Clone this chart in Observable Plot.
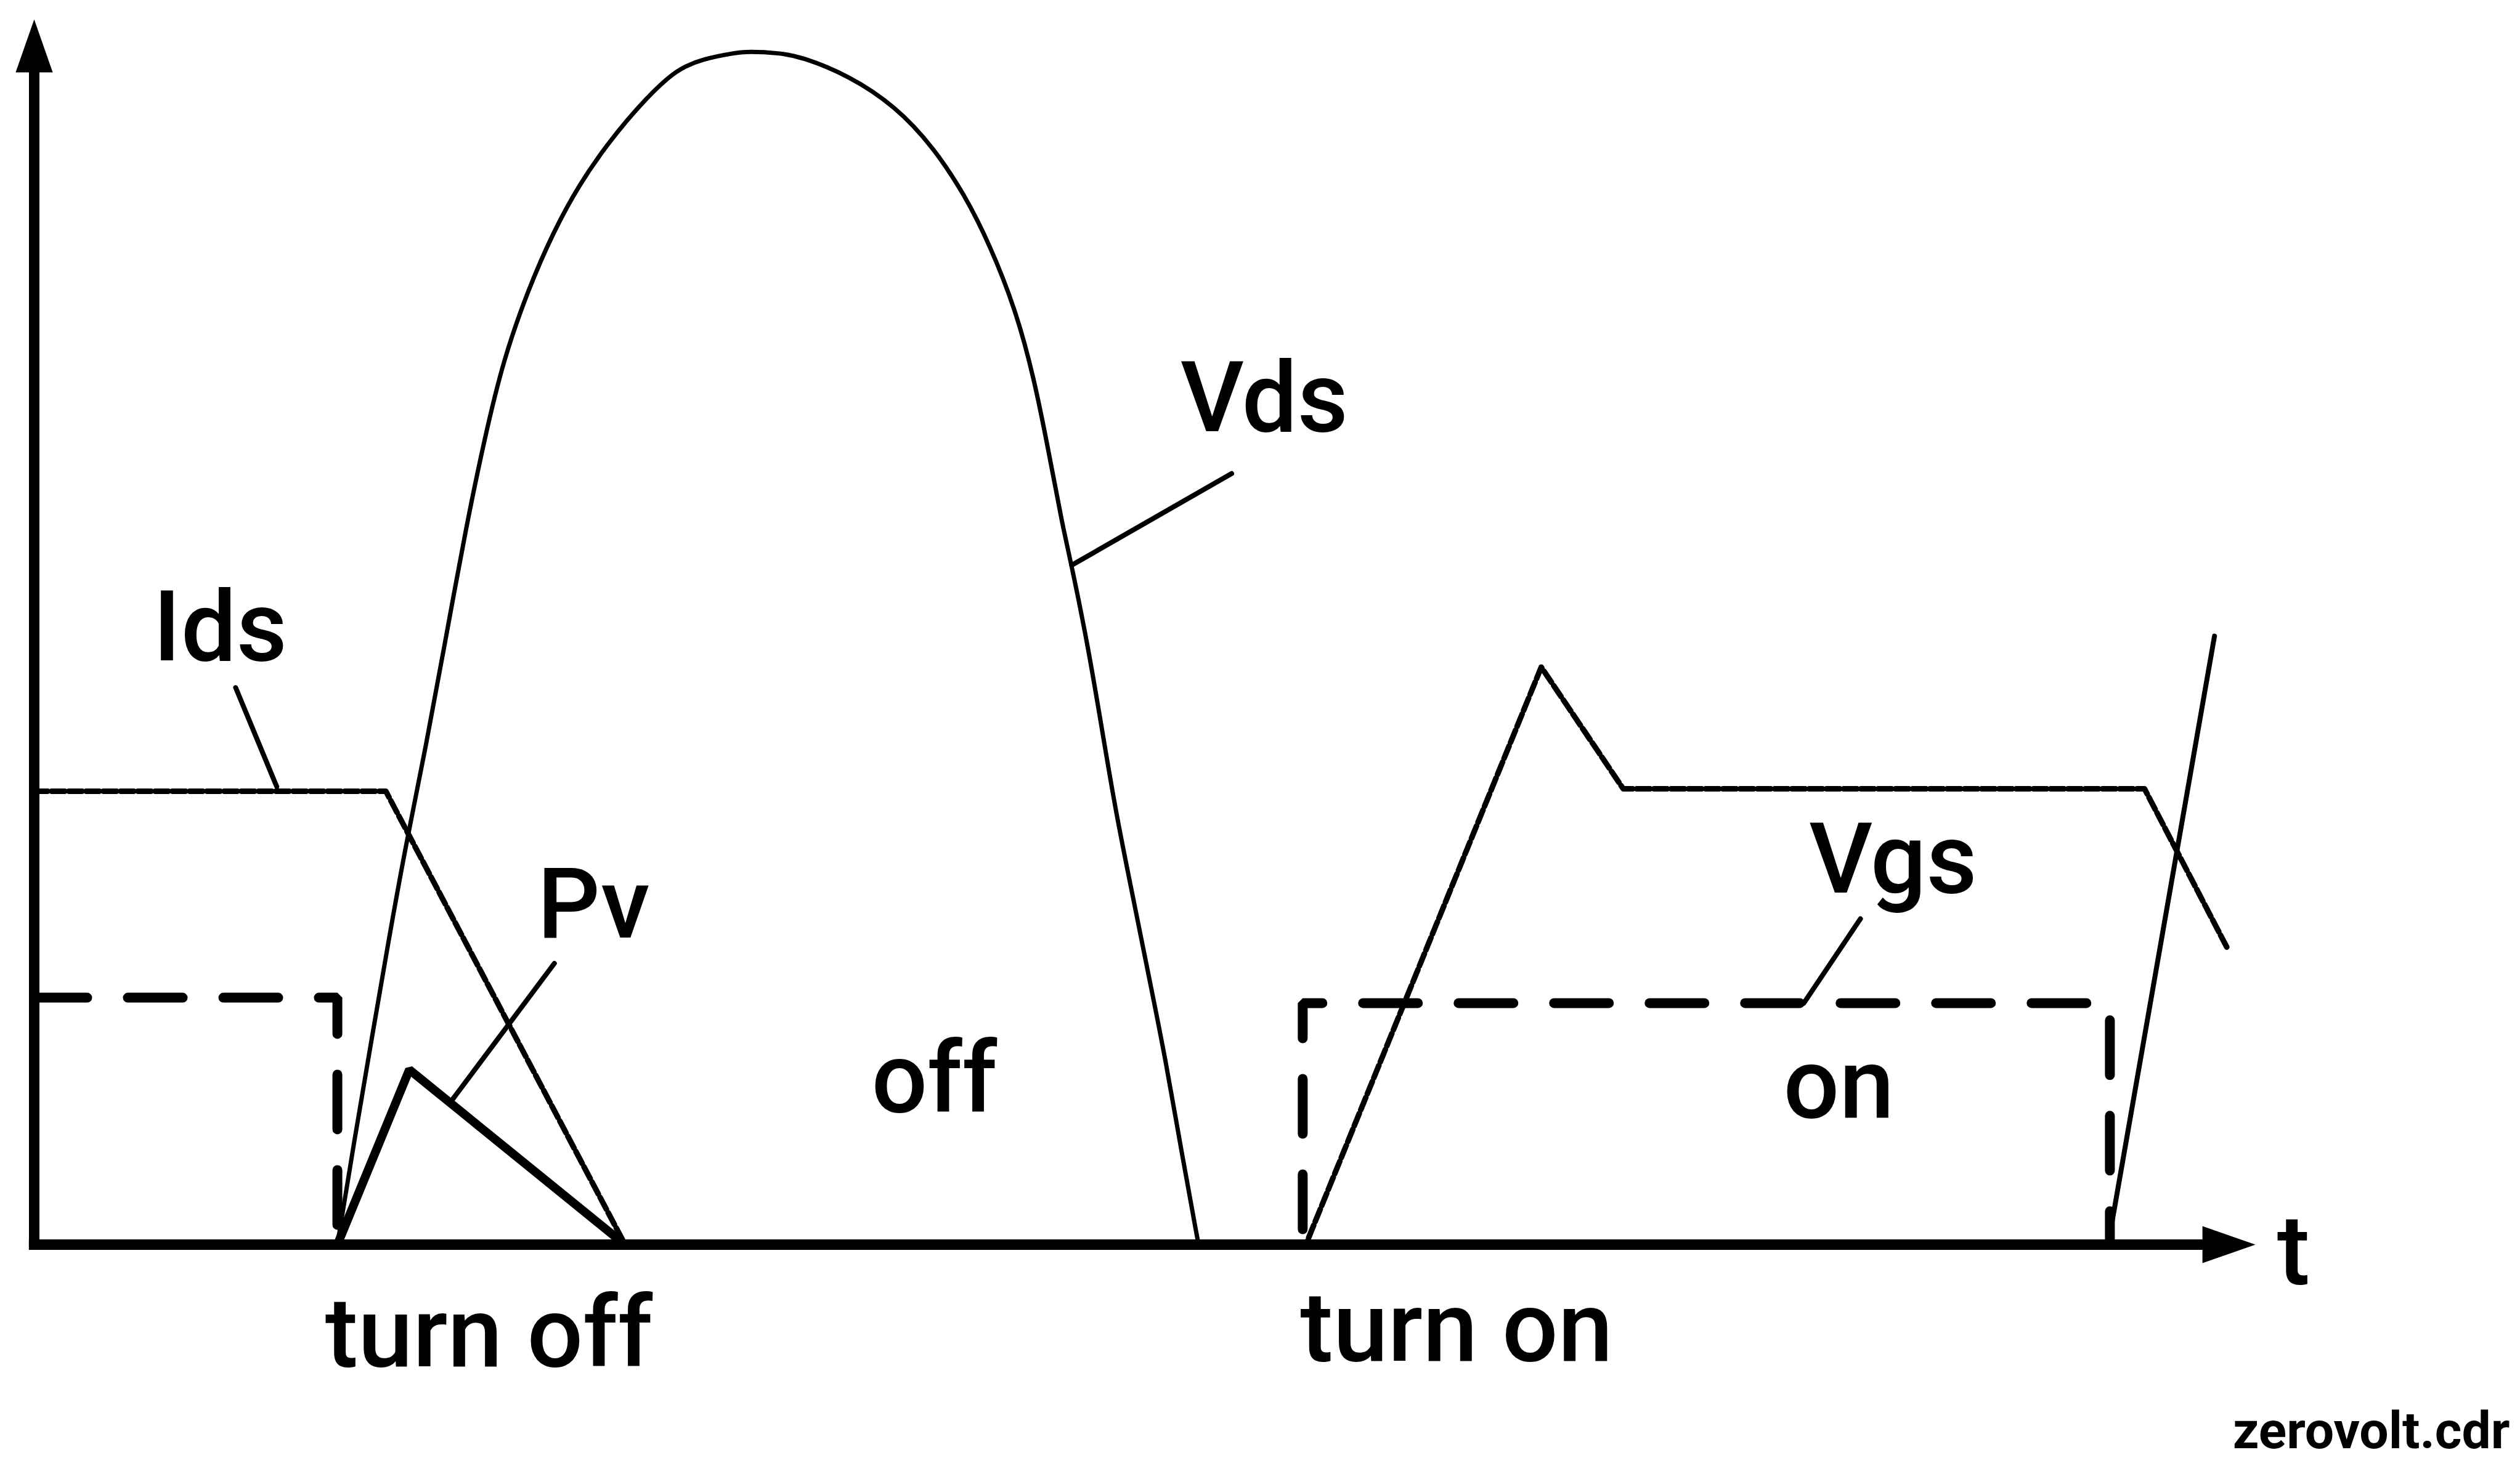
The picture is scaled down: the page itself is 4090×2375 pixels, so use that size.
<!DOCTYPE html>
<html>
<head>
<meta charset="utf-8">
<script src="https://cdn.jsdelivr.net/npm/d3@7"></script>
<script src="https://cdn.jsdelivr.net/npm/@observablehq/plot@0.6"></script>
<style>
  html, body { margin: 0; padding: 0; background: #ffffff; }
  #chart svg { display: block; }
</style>
</head>
<body>
<div id="chart"></div>
<script>
// ---- data (t: time units, v: relative amplitude; Vds peak = 100) ----
const vdsHumpT = [13.65,13.76,14.17,16.08,16.78,17.64,18.42,19.47,20.27,21.11,22.25,23.38,24.52,25.79,27.20,28.62,29.32,30.04,31.48,32.15,33.56,34.54,36.66,38.78,40.47,41.89,43.02,44.16,45.01,45.71,46.28,46.71,47.46,48.08,48.70,49.45,50.18,50.93,51.68,52.42];
const vdsHumpV = [0,1.2,6.1,26.9,33.9,41.8,49.7,60.4,67.5,74.1,80.1,84.9,88.8,92.2,95.4,98.0,98.76,99.33,99.87,100,99.87,99.55,98.0,95.4,92.0,88.0,83.8,78.5,72.7,66.1,60.4,56.9,50.0,43.1,36.2,29.3,22.5,15.6,7.5,0];
const vdsRiseT = [93.37, 98.16];
const vdsRiseV = [0, 51.0];

const idsT = [0, 15.83, 26.60, 57.25, 67.85, 71.54, 95.01, 98.75];
const idsV = [38.0, 38.0, 0, 0, 48.4, 38.2, 38.2, 24.8];

const vgsOffT = [0, 13.65, 13.65];
const vgsOffV = [20.7, 20.7, 0];
const vgsOnT = [57.11, 57.11, 93.45, 93.45];
const vgsOnV = [0, 20.24, 20.24, 0];

const pvT = [13.65, 16.89, 26.60];
const pvV = [0, 14.66, 0];

const leaderT1 = [9.07, 23.42, 53.91, 82.22];
const leaderV1 = [46.68, 23.57, 64.62, 27.31];
const leaderT2 = [10.92, 18.85, 46.71, 79.67];
const leaderV2 = [38.38, 12.21, 56.94, 20.24];

const labelText = ["Ids", "Pv", "Vds", "Vgs", "off", "on", "turn off", "turn on", "t"];
const labelT = [5.35, 22.65, 51.6, 79.9, 37.7, 78.75, 13.1, 57.0, 100.98];
const labelV = [48.97, 25.71, 68.15, 29.48, 11.10, 10.65, -10.22, -9.71, -3.30];

const creditText = ["zerovolt.cdr"];
const creditT = [111.46];
const creditV = [-17.04];

// axes: x axis along v=0, y axis along t=0
const axisT1 = [-0.24, 0];
const axisV1 = [0, -0.44];
const axisT2 = [97.9, 0];
const axisV2 = [0, 99.0];
// arrowheads at the ends of the axes
const arrowT = [0, 98.81];
const arrowV = [100.47, 0];
const arrowAngle = [0, 90];

// ---- build tables ----
const zip = (ts, vs) => ts.map((t, i) => ({t, v: vs[i]}));
const vdsHump = zip(vdsHumpT, vdsHumpV);
const vdsRise = zip(vdsRiseT, vdsRiseV);
const ids = zip(idsT, idsV);
const vgsOff = zip(vgsOffT, vgsOffV);
const vgsOn = zip(vgsOnT, vgsOnV);
const pv = zip(pvT, pvV);
const leaders = leaderT1.map((t, i) => ({t1: t, v1: leaderV1[i], t2: leaderT2[i], v2: leaderV2[i]}));
const labels = labelText.map((s, i) => ({s, t: labelT[i], v: labelV[i]}));
const credit = creditText.map((s, i) => ({s, t: creditT[i], v: creditV[i]}));
const axes = axisT1.map((t, i) => ({t1: t, v1: axisV1[i], t2: axisT2[i], v2: axisV2[i]}));
const arrows = arrowT.map((t, i) => ({t, v: arrowV[i], a: arrowAngle[i]}));

const arrowSymbol = {
  draw(ctx, size) {
    const s = Math.sqrt(size);
    ctx.moveTo(0, -s * 0.5);
    ctx.lineTo(s * 0.35, s * 0.5);
    ctx.lineTo(-s * 0.35, s * 0.5);
    ctx.closePath();
  }
};

const font = "Roboto, 'Noto Sans', 'DejaVu Sans', sans-serif";

const chart = Plot.plot({
  width: 4090,
  height: 2375,
  marginLeft: 55,
  marginRight: 430,
  marginTop: 83,
  marginBottom: 355,
  x: {domain: [0, 100], axis: null},
  y: {domain: [0, 100], axis: null},
  style: {background: "#ffffff", color: "#000000", fontFamily: font},
  marks: [
    // axes
    Plot.link(axes, {x1: "t1", y1: "v1", x2: "t2", y2: "v2", stroke: "#000", strokeWidth: 17, strokeLinecap: "butt"}),
    Plot.dot(arrows, {x: "t", y: "v", rotate: "a", symbol: arrowSymbol, r: 48.5, fill: "#000", stroke: "none"}),
    // Vgs (dashed)
    Plot.line(vgsOff, {x: "t", y: "v", stroke: "#000", strokeWidth: 16, strokeDasharray: "89,66", strokeDashoffset: 3, strokeLinecap: "round", strokeLinejoin: "miter"}),
    Plot.line(vgsOn, {x: "t", y: "v", stroke: "#000", strokeWidth: 16, strokeDasharray: "89,66", strokeDashoffset: 130, strokeLinecap: "round", strokeLinejoin: "miter"}),
    // Ids (dotted texture)
    Plot.line(ids, {x: "t", y: "v", stroke: "#000", strokeWidth: 9, strokeDasharray: "22,6", strokeLinejoin: "round"}),
    // Vds
    Plot.line(vdsHump, {x: "t", y: "v", curve: "basis", stroke: "#000", strokeWidth: 7}),
    Plot.line(vdsRise, {x: "t", y: "v", stroke: "#000", strokeWidth: 8}),
    // Pv
    Plot.line(pv, {x: "t", y: "v", stroke: "#000", strokeWidth: 14, strokeLinejoin: "miter"}),
    // label leaders
    Plot.link(leaders, {x1: "t1", y1: "v1", x2: "t2", y2: "v2", stroke: "#000", strokeWidth: 8, strokeLinecap: "round"}),
    // labels
    Plot.text(labels, {x: "t", y: "v", text: "s", fontSize: 160, fontFamily: font, fontWeight: 500, textAnchor: "start", lineAnchor: "bottom", fill: "#000"}),
    Plot.text(credit, {x: "t", y: "v", text: "s", fontSize: 84, fontFamily: font, fontWeight: 700, textAnchor: "end", lineAnchor: "bottom", fill: "#000"})
  ]
});

document.getElementById("chart").appendChild(chart);
</script>
</body>
</html>
